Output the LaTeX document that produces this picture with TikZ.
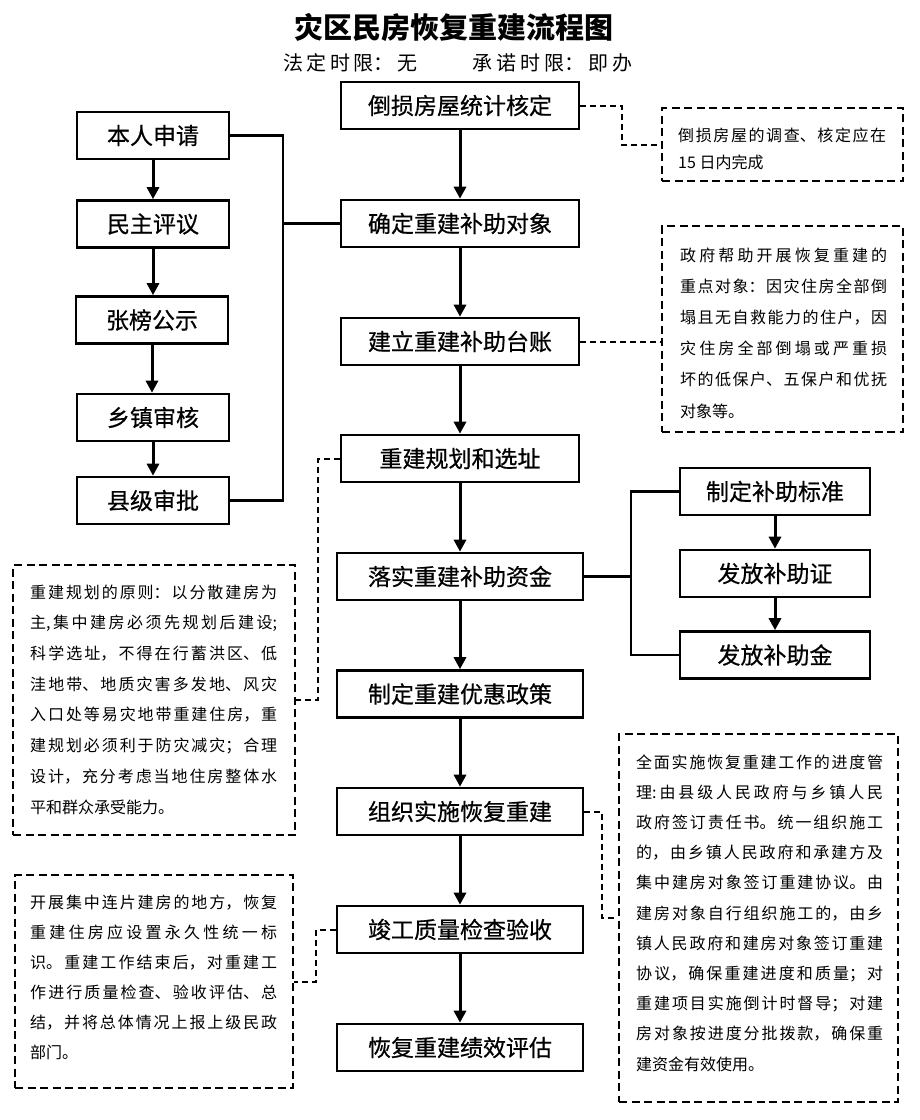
\documentclass[tikz,border=0pt]{standalone}
\usepackage{fontspec}
\usetikzlibrary{arrows.meta,calc}
\newfontfamily\cjk{Noto Sans CJK SC}
\newfontfamily\boxcjk[FakeBold=0.6]{Noto Sans CJK SC}
\XeTeXlinebreaklocale "zh"
\XeTeXlinebreakskip=0pt plus 1fil
\newcommand\J[2]{\parbox[b]{#1}{\parfillskip=0pt\relax #2}}
\begin{document}
\begin{tikzpicture}[x=1pt,y=-1pt,
  box/.style={draw, line width=2.6pt, minimum height=47pt, inner sep=0pt, font=\boxcjk\fontsize{23}{23}\selectfont},
  mbox/.style={box, minimum width=238pt},
  wbox/.style={box, minimum width=246pt},
  lbox/.style={box, minimum width=152pt},
  rbox/.style={box, minimum width=190pt},
  arr/.style={line width=3pt, -{Triangle[width=12pt,length=12pt]}},
  conn/.style={line width=2.6pt},
  dconn/.style={line width=2pt, dash pattern=on 6pt off 4pt},
  note/.style={draw, line width=2.6pt, dash pattern=on 8pt off 4.5pt, inner sep=0pt},
  nt/.style={inner sep=0pt, anchor=base west, font=\cjk\fontsize{16}{16}\selectfont},
  ]
\useasboundingbox (0,0) rectangle (920,1120);
% title
\node[inner sep=0pt, font=\cjk\bfseries\fontsize{29}{29}\selectfont] (title) at (454,27) {灾区民房恢复重建流程图};
\node[inner sep=0pt, anchor=base west, font=\cjk\fontsize{20}{20}\selectfont] (sub1) at (283,70.5) {\J{134pt}{法定时限：无}};
\node[inner sep=0pt, anchor=base west, font=\cjk\fontsize{20}{20}\selectfont] (sub2) at (472,70.5) {\J{160pt}{承诺时限：即办}};
% main column
\node[mbox] (b1) at (460,105.5) {倒损房屋统计核定};
\node[mbox] (b2) at (460,223.5) {确定重建补助对象};
\node[mbox] (b3) at (460,341.5) {建立重建补助台账};
\node[mbox] (b4) at (460,458.5) {重建规划和选址};
\node[wbox] (b5) at (460,576.5) {落实重建补助资金};
\node[wbox] (b6) at (460,694) {制定重建优惠政策};
\node[wbox] (b7) at (460,811.5) {组织实施恢复重建};
\node[wbox] (b8) at (460,929.5) {竣工质量检查验收};
\node[wbox] (b9) at (460,1047.5) {恢复重建绩效评估};
\foreach \a/\b in {b1/b2,b2/b3,b3/b4,b4/b5,b5/b6,b6/b7,b7/b8,b8/b9}
  \draw[arr] (\a.south) -- (\b.north);
% left column
\node[lbox] (l1) at (153,135.5) {本人申请};
\node[lbox] (l2) at (153,224) {民主评议};
\node[lbox] (l3) at (152,320) {张榜公示};
\node[lbox] (l4) at (153,417.5) {乡镇审核};
\node[lbox] (l5) at (153,500.5) {县级审批};
\foreach \a/\b in {l1/l2,l2/l3,l3/l4,l4/l5}
  \draw[arr] (\a.south) -- (\a.south |- \b.north);
\coordinate (lb) at (283,223.5);
\draw[conn] (l1.east) -| (lb) |- (l5.east);
\draw[conn] (lb) -- (b2.west);
% right column
\node[rbox] (r1) at (775,491.5) {制定补助标准};
\node[rbox] (r2) at (775,573.5) {发放补助证};
\node[rbox] (r3) at (775,655) {发放补助金};
\draw[arr] (r1.south) -- (r2.north);
\draw[arr] (r2.south) -- (r3.north);
\coordinate (rb) at (631,576.5);
\draw[conn] (r1.west) -| (rb) |- (r3.west);
\draw[conn] (b5.east) -- (rb);
% notes
\node[note, minimum width=241pt, minimum height=73pt] (n1) at (782.5,144.5) {};
\node[note, minimum width=241pt, minimum height=206pt] (n2) at (782.5,329) {};
\node[note, minimum width=282pt, minimum height=270pt] (n3) at (154,700) {};
\node[note, minimum width=279pt, minimum height=368pt] (n4) at (758.5,918) {};
\node[note, minimum width=278pt, minimum height=213pt] (n5) at (154,981.5) {};
% note connectors
\coordinate (k1) at (622,0);
\coordinate (k3) at (318,0);
\coordinate (k4) at (602,0);
\coordinate (k5) at (316,0);
\draw[dconn] (b1.east) -| (k1 |- n1.west) -- (n1.west);
\draw[dconn] (b3.east) -- (b3.east -| n2.west);
\draw[dconn] (b4.west) -| (k3 |- n3.east) -- (n3.east);
\draw[dconn] (b7.east) -| (k4 |- n4.west) -- (n4.west);
\draw[dconn] (b8.west) -| (k5 |- n5.east) -- (n5.east);
% note 1 text
\node[nt] (n1a) at (678,141) {\J{208pt}{倒损房屋的调查、核定应在}};
\node[nt] (n1b) at (678,168) {15 日内完成};
% note 2 text
\foreach \t [count=\i] in {政府帮助开展恢复重建的,重点对象：因灾住房全部倒,塌且无自救能力的住户，因,灾住房全部倒塌或严重损,坏的低保户、五保户和优抚}
  \node[nt] (n2l\i) at (680,{261+31.2*(\i-1)}) {\J{207pt}{\t}};
\node[nt] (n2l6) at (680,417) {对象等。};
% note 3 text
\foreach \t [count=\i] in {重建规划的原则：以分散建房为,{主,集中建房必须先规划后建设;},科学选址，不得在行蓄洪区、低,洼地带、地质灾害多发地、风灾,入口处等易灾地带重建住房，重,建规划必须利于防灾减灾；合理,设计，充分考虑当地住房整体水}
  \node[nt] (n3l\i) at (30,{598+30.7*(\i-1)}) {\J{247pt}{\t}};
\node[nt] (n3l8) at (30,813) {平和群众承受能力。};
% note 4 text
\foreach \t [count=\i] in {全面实施恢复重建工作的进度管,理:由县级人民政府与乡镇人民,政府签订责任书。统一组织施工,的，由乡镇人民政府和承建方及,集中建房对象签订重建协议。由,建房对象自行组织施工的，由乡,镇人民政府和建房对象签订重建,协议，确保重建进度和质量；对,重建项目实施倒计时督导；对建,房对象按进度分批拨款，确保重}
  \node[nt] (n4l\i) at (636,{768+30.2*(\i-1)}) {\J{247pt}{\t}};
\node[nt] (n4l11) at (636,1070) {建资金有效使用。};
% note 5 text
\foreach \t [count=\i] in {开展集中连片建房的地方，恢复,重建住房应设置永久性统一标,识。重建工作结束后，对重建工,作进行质量检查、验收评估、总,结，并将总体情况上报上级民政}
  \node[nt] (n5l\i) at (30,{908+30*(\i-1)}) {\J{247pt}{\t}};
\node[nt] (n5l6) at (30,1058) {部门。};
\end{tikzpicture}
\end{document}
